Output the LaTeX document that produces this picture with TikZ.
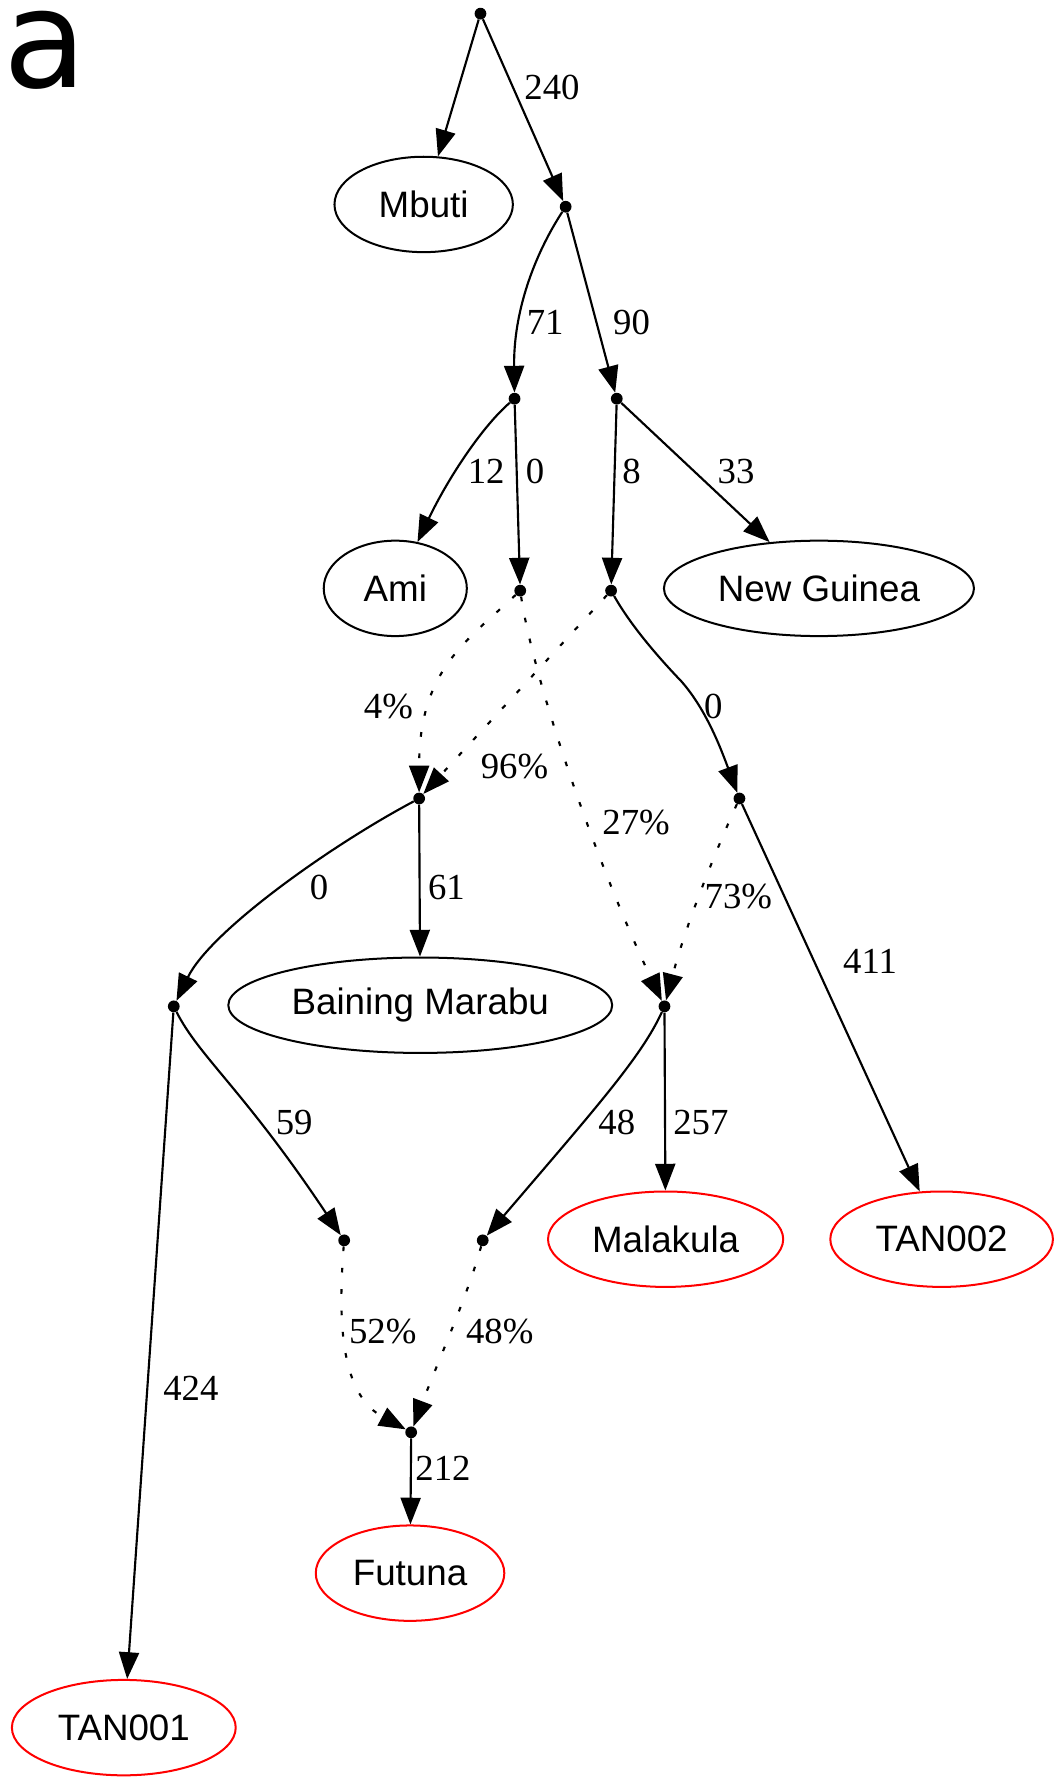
\documentclass[tikz,border=0pt]{standalone}
\usepackage{fontspec}
\setmainfont{Liberation Serif}
\newfontfamily\helv{Liberation Sans}
\newfontfamily\bigsans{DejaVu Sans}
\usetikzlibrary{arrows.meta,shapes.geometric}
\begin{document}
\begin{tikzpicture}[x=0.85pt,y=-0.85pt,
  dotnode/.style={circle,fill=black,inner sep=0pt,minimum size=8.8pt},
  pop/.style={ellipse,draw=black,line width=1.5pt,inner sep=0pt,minimum height=71.4pt,font=\helv\fontsize{27.5}{33}\selectfont},
  tgt/.style={pop,draw=red},
  e/.style={line width=1.6pt,-{Triangle[length=20pt,width=15pt]}},
  adm/.style={e,dash pattern=on 3.5pt off 12.5pt},
  lbl/.style={font=\fontsize{27.5}{33}\selectfont,inner sep=0pt}
]
\useasboundingbox (0,0) rectangle (928,1568);
\node[font=\bigsans\fontsize{102}{110}\selectfont,inner sep=0pt] (panel) at (40,44) {a};

\node[dotnode] (r) at (423,12) {};
\node[pop,minimum width=133.5pt] (mb) at (373,180) {Mbuti};
\node[dotnode] (n2) at (498,182) {};
\node[dotnode] (n3) at (453,351) {};
\node[dotnode] (n4) at (543,351) {};
\node[pop,minimum width=107.1pt] (ami) at (348,518) {Ami};
\node[dotnode] (n5) at (458,520) {};
\node[dotnode] (n6) at (538,520) {};
\node[pop,minimum width=232pt] (ng) at (721,518) {New Guinea};
\node[dotnode] (n7) at (369,703) {};
\node[dotnode] (n8) at (651,703) {};
\node[dotnode] (n9) at (153,886) {};
\node[pop,minimum width=287.3pt] (bm) at (370,885) {Baining Marabu};
\node[dotnode] (n10) at (585,886) {};
\node[dotnode] (n11) at (303,1092) {};
\node[dotnode] (n12) at (425,1092) {};
\node[tgt,minimum width=176pt] (mal) at (586,1091) {Malakula};
\node[tgt,minimum width=166.6pt] (tan2) at (829,1091) {TAN002};
\node[dotnode] (n13) at (362,1261) {};
\node[tgt,minimum width=141.1pt] (fut) at (361,1385) {Futuna};
\node[tgt,minimum width=167.5pt] (tan1) at (109,1521) {TAN001};

\draw[e] (r) -- (mb);
\draw[e] (r) -- (n2) node[lbl] at (486,77) {240};
\draw[e] (n2) .. controls (470,225) and (452,275) .. (n3) node[lbl] at (480,284) {71};
\draw[e] (n2) -- (n4) node[lbl] at (556,284) {90};
\draw[e] (n3) .. controls (425,375) and (395,420) .. (ami) node[lbl] at (428,415) {12};
\draw[e] (n3) -- (n5) node[lbl] at (471,415) {0};
\draw[e] (n4) -- (n6) node[lbl] at (556,415) {8};
\draw[e] (n4) -- (ng) node[lbl] at (648,415) {33};
\draw[adm] (n5) .. controls (410,565) and (369,590) .. (n7) node[lbl] at (342,622) {4\%};
\draw[adm] (n6) -- (n7) node[lbl] at (453,675) {96\%};
\draw[adm] (n5) .. controls (470,600) and (525,760) .. (n10) node[lbl] at (560,724) {27\%};
\draw[e] (n6) .. controls (555,550) and (578,577) .. (600,600) .. controls (622,625) and (635,660) .. (n8) node[lbl] at (628,622) {0};
\draw[adm] (n8) .. controls (632,745) and (605,810) .. (n10) node[lbl] at (650,789) {73\%};
\draw[e] (n8) -- (tan2) node[lbl] at (766,846) {411};
\draw[e] (n7) .. controls (290,745) and (185,820) .. (n9) node[lbl] at (281,781) {0};
\draw[e] (n7) -- (bm) node[lbl] at (393,781) {61};
\draw[e] (n9) -- (tan1) node[lbl] at (168,1222) {424};
\draw[e] (n9) .. controls (175,930) and (215,960) .. (n11) node[lbl] at (259,988) {59};
\draw[e] (n10) .. controls (565,930) and (525,975) .. (n12) node[lbl] at (543,988) {48};
\draw[e] (n10) -- (mal) node[lbl] at (617,988) {257};
\draw[adm] (n11) .. controls (296,1180) and (305,1230) .. (n13) node[lbl] at (337,1172) {52\%};
\draw[adm] (n12) .. controls (412,1140) and (385,1200) .. (n13) node[lbl] at (440,1172) {48\%};
\draw[e] (n13) -- (fut) node[lbl] at (390,1293) {212};
\end{tikzpicture}
\end{document}
